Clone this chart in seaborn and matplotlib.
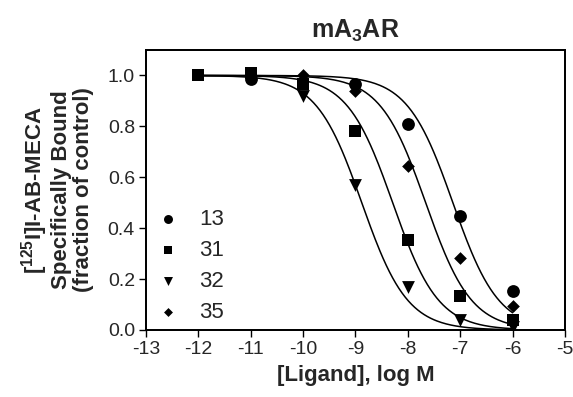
import numpy as np
import pandas as pd
import matplotlib
matplotlib.use("Agg")
from matplotlib import pyplot as plt
from matplotlib.patches import Rectangle
import seaborn as sns

# Data (log M vs fraction bound)
compounds = ["13", "31", "32", "35"]
x_13 = [-11, -9, -8, -7, -6]
y_13 = [0.985, 0.968, 0.81, 0.449, 0.155]
x_31 = [-12, -11, -10, -9, -8, -7, -6]
y_31 = [1.0, 1.01, 0.965, 0.78, 0.352, 0.132, 0.04]
x_32 = [-10, -9, -8, -7, -6]
y_32 = [0.918, 0.568, 0.168, 0.038, 0.012]
x_35 = [-10, -9, -8, -7, -6]
y_35 = [1.0, 0.94, 0.646, 0.283, 0.093]

# Fitted logIC50 (Hill slope 1)
log_ic50 = [-7.14, -8.29, -8.88, -7.66]

markers = {"13": "o", "31": "s", "32": "v", "35": "D"}
sizes = {"13": 85, "31": 75, "32": 85, "35": 42}

sns.set_style("ticks")
plt.rcParams["font.family"] = ["Liberation Sans", "DejaVu Sans"]
plt.rcParams["mathtext.fontset"] = "custom"
plt.rcParams["mathtext.rm"] = "Liberation Sans"
plt.rcParams["mathtext.bf"] = "Liberation Sans:bold"
plt.rcParams["axes.unicode_minus"] = False

points = pd.concat([
    pd.DataFrame({"logM": x_13, "bound": y_13, "cmp": "13"}),
    pd.DataFrame({"logM": x_31, "bound": y_31, "cmp": "31"}),
    pd.DataFrame({"logM": x_32, "bound": y_32, "cmp": "32"}),
    pd.DataFrame({"logM": x_35, "bound": y_35, "cmp": "35"}),
])

xs = np.linspace(-12, -6, 200)
curves = pd.concat([
    pd.DataFrame({"logM": xs, "bound": 1 / (1 + 10 ** (xs - c)), "cmp": name})
    for name, c in zip(compounds, log_ic50)
])

fig = plt.figure(figsize=(5.73, 3.97), dpi=100)
ax = fig.add_axes([0.2548, 0.1688, 0.7312, 0.7052])

for name in compounds:
    sns.lineplot(data=curves[curves.cmp == name], x="logM", y="bound",
                 color="black", linewidth=1.1, ax=ax, legend=False)

for name in compounds:
    sub = points[points.cmp == name]
    sns.scatterplot(data=sub, x="logM", y="bound", marker=markers[name],
                    s=sizes[name], color="black", edgecolor="black",
                    linewidth=0, ax=ax, label=name, zorder=3)

ax.set_xlim(-13, -5)
ax.set_ylim(0, 1.1)
ax.set_xticks(range(-13, -4))
ax.set_yticks([0.0, 0.2, 0.4, 0.6, 0.8, 1.0])
ax.set_yticklabels(["0.0", "0.2", "0.4", "0.6", "0.8", "1.0"])
ax.tick_params(direction="out", length=5, width=1, labelsize=14, color="black", pad=3)

ax.set_xlabel("[Ligand], log M", fontsize=16, fontweight="bold", labelpad=5)
ax.set_ylabel("[$^{\\mathbf{125}}$I]I-AB-MECA\nSpecifically Bound\n(fraction of control)",
              fontsize=16, fontweight="bold", labelpad=10, linespacing=1.05)
ax.set_title("mA$_\\mathbf{3}$AR", fontsize=18, fontweight="bold", pad=9)

leg = ax.legend(loc="lower left", frameon=False, fontsize=16,
                handletextpad=0.7, labelspacing=0.45, borderaxespad=0.0,
                borderpad=0.3, handlelength=1.4, markerscale=0.7)

# full box frame
for side in ["left", "bottom", "right", "top"]:
    ax.spines[side].set_visible(True)
    ax.spines[side].set_linewidth(1.3)
    ax.spines[side].set_color("black")
ax.add_patch(Rectangle((0, 0), 1, 1, transform=ax.transAxes, fill=False,
                       edgecolor="black", linewidth=1.3, clip_on=False, zorder=5))

fig.savefig("out.png", dpi=100)
